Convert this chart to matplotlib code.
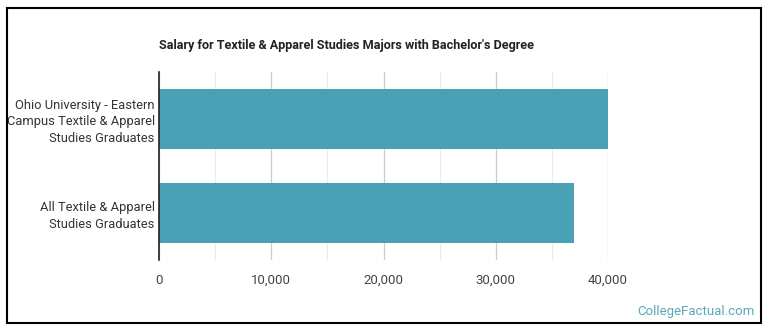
import matplotlib.pyplot as plt
from matplotlib.patches import Rectangle
from matplotlib.ticker import FuncFormatter, MultipleLocator

categories = ["Ohio University - Eastern\nCampus Textile & Apparel\nStudies Graduates",
              "All Textile & Apparel\nStudies Graduates"]
salaries = [40000, 37000]
title = "Salary for Textile & Apparel Studies Majors with Bachelor's Degree"

plt.rcParams['font.family'] = ['Roboto', 'DejaVu Sans']

fig = plt.figure(figsize=(7.7, 3.35), dpi=100)
ax = fig.add_axes([159 / 770, 1 - 260 / 335, 449 / 770, 188 / 335])

y = list(range(len(categories)))
ax.barh(y, salaries, height=0.63, color="#4aa0b5", zorder=3)
ax.set_ylim(len(categories) - 0.5, -0.5)
ax.set_xlim(0, 40000)
ax.set_yticks(y)
ax.set_yticklabels(categories, fontsize=9.3, color="#333333", linespacing=1.3)

ax.xaxis.set_major_locator(MultipleLocator(10000))
ax.xaxis.set_minor_locator(MultipleLocator(5000))
ax.xaxis.set_major_formatter(FuncFormatter(lambda v, p: "{:,.0f}".format(v)))
ax.tick_params(axis='x', which='both', length=0, labelsize=9.5, labelcolor="#444444", pad=10)
ax.tick_params(axis='y', length=0, pad=3)
ax.grid(axis='x', which='major', color="#cccccc", linewidth=0.9, zorder=0)
ax.grid(axis='x', which='minor', color="#ebebeb", linewidth=0.9, zorder=0)

for s in ['top', 'right', 'bottom']:
    ax.spines[s].set_visible(False)
ax.spines['left'].set_color("#222222")
ax.spines['left'].set_linewidth(1.2)
ax.spines['left'].set_zorder(4)

fig.text(159 / 770, 1 - 45 / 335, title, fontsize=9.1, fontweight='bold',
         color="#222222", va='center', ha='left')
fig.text(755 / 770, 1 - 312 / 335, "CollegeFactual.com", fontsize=9.5,
         color="#5aa7bd", va='center', ha='right')

fig.patches.append(Rectangle((7 / 770, 1 - 323 / 335), 754 / 770, 315 / 335,
                             transform=fig.transFigure, fill=False,
                             edgecolor="black", linewidth=1.5))

plt.savefig("out.png", dpi=100)
